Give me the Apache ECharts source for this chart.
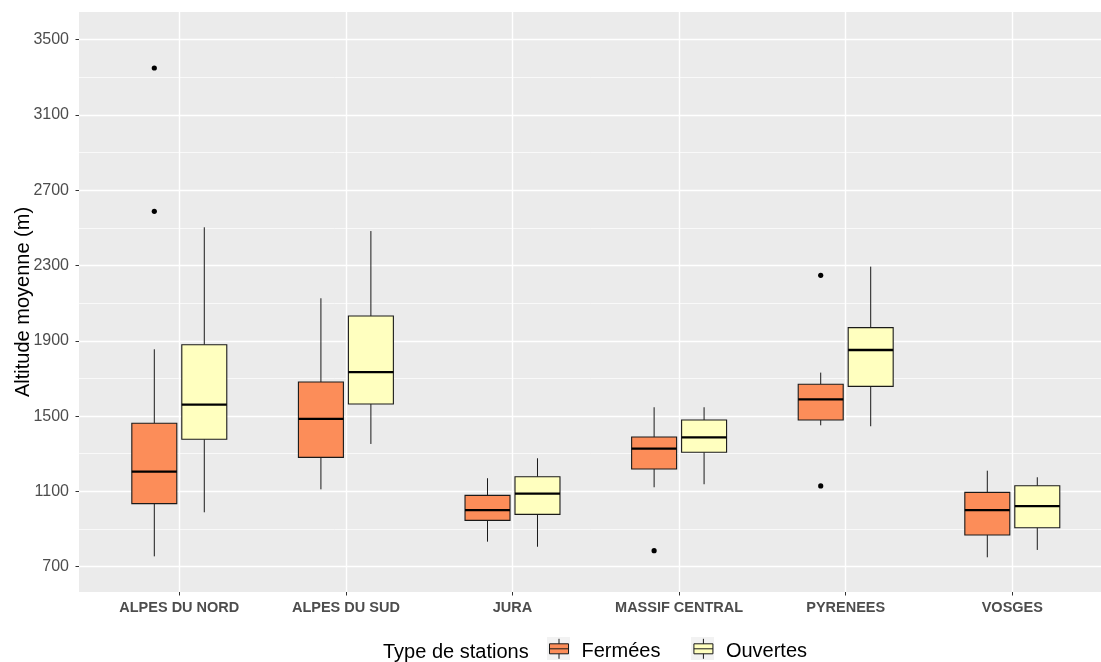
<!DOCTYPE html>
<html>
<head>
<meta charset="utf-8">
<title>Altitude moyenne des stations par massif</title>
<script src="https://cdn.jsdelivr.net/npm/echarts@6/dist/echarts.min.js"></script>
<style>
  html, body { margin: 0; padding: 0; background: #ffffff; }
  #chart { width: 1101px; height: 662px; }
</style>
</head>
<body>
<div id="chart"></div>
<script>
// Massifs on the x axis
const categories = ['ALPES DU NORD', 'ALPES DU SUD', 'JURA', 'MASSIF CENTRAL', 'PYRENEES', 'VOSGES'];

// Box statistics per massif: [lower whisker, Q1, median, Q3, upper whisker]
const fermees = [
  [755, 1035, 1205, 1462, 1855],
  [1111, 1281, 1485, 1681, 2126],
  [833, 946, 1000, 1079, 1170],
  [1122, 1219, 1327, 1389, 1547],
  [1451, 1479, 1589, 1669, 1731],
  [750, 868, 1000, 1095, 1210]
];
const ouvertes = [
  [989, 1377, 1561, 1879, 2503],
  [1352, 1564, 1734, 2032, 2483],
  [806, 978, 1088, 1178, 1276],
  [1138, 1308, 1387, 1479, 1547],
  [1446, 1658, 1851, 1970, 2294],
  [789, 907, 1022, 1130, 1175]
];

// Outlying stations: [massif index, altitude]
const outliersFermees = [[0, 3349], [0, 2588], [3, 785], [4, 2248], [4, 1129]];
const outliersOuvertes = [];

// Axis ticks
const yMajorTicks = [700, 1100, 1500, 1900, 2300, 2700, 3100, 3500];
const yMinorTicks = [900, 1300, 1700, 2100, 2500, 2900, 3300];
const yRange = [565.6, 3646.6];

const groupNames = ['Fermées', 'Ouvertes'];
const groupColors = ['#FC8D59', '#FFFFBF'];
const lineColor = '#1A1A1A';
const FONT = '"Liberation Sans", Arial, sans-serif';

// Dodge offset and box width, as fractions of the category spacing
const DODGE = 0.15;
const HALF_BOX = 0.135;

// Legend key: box, median and whisker stubs; the trailing move-to pads the key
// below so the label sits slightly lower than the box centre.
const KEY_ICON = 'path://M0,5 L19,5 L19,15 L0,15 Z M0,10 L19,10 M9.5,0 L9.5,5 M9.5,15 L9.5,20 M9.5,26';

function boxRenderer(offsetFrac, fill) {
  return function (params, api) {
    const idx = api.value(0);
    const band = api.size([1, 0])[0];
    const cx = api.coord([idx, 0])[0] + offsetFrac * band;
    const half = HALF_BOX * band;
    const y = [1, 2, 3, 4, 5].map(d => api.coord([idx, api.value(d)])[1]);
    return {
      type: 'group',
      children: [
        { type: 'line', shape: { x1: cx, y1: y[0], x2: cx, y2: y[1] },
          style: { stroke: lineColor, lineWidth: 1 } },
        { type: 'line', shape: { x1: cx, y1: y[3], x2: cx, y2: y[4] },
          style: { stroke: lineColor, lineWidth: 1 } },
        { type: 'rect', shape: { x: cx - half, y: y[3], width: 2 * half, height: y[1] - y[3] },
          style: { fill: fill, stroke: lineColor, lineWidth: 1.1 } },
        { type: 'line', shape: { x1: cx - half, y1: y[2], x2: cx + half, y2: y[2] },
          style: { stroke: '#000000', lineWidth: 2.3 } }
      ]
    };
  };
}

function outlierRenderer(offsetFrac) {
  return function (params, api) {
    const idx = api.value(0);
    const band = api.size([1, 0])[0];
    const p = api.coord([idx, api.value(1)]);
    return {
      type: 'circle',
      shape: { cx: p[0] + offsetFrac * band, cy: p[1], r: 2.6 },
      style: { fill: '#000000' }
    };
  };
}

const chart = echarts.init(document.getElementById('chart'), null, { renderer: 'canvas' });

const hiddenAxis = {
  axisLine: { show: false }, axisTick: { show: false },
  axisLabel: { show: false }, splitLine: { show: false }
};

chart.setOption({
  animation: false,
  backgroundColor: '#ffffff',
  textStyle: { fontFamily: FONT },
  grid: [
    // full panel: background and horizontal grid lines
    { left: 79, right: -11, top: 12, bottom: 70, backgroundColor: '#EBEBEB', show: true, borderWidth: 0,
      outerBoundsMode: 'none', containLabel: false },
    // plotting area spanning first to last massif
    { left: 179.3, right: 88.7, top: 12, bottom: 70, outerBoundsMode: 'none', containLabel: false }
  ],
  xAxis: [
    Object.assign({ type: 'value', gridIndex: 0, min: 0, max: 1 }, hiddenAxis),
    {
      type: 'category', gridIndex: 1, data: categories, boundaryGap: false,
      axisLine: { show: false },
      axisTick: { show: true, length: 3.5, lineStyle: { color: '#333333', width: 1 } },
      axisLabel: { interval: 0, margin: 8, color: '#4D4D4D', fontSize: 14.5, fontWeight: 'bold', fontFamily: FONT },
      splitLine: { show: true, lineStyle: { color: '#FFFFFF', width: 1.4 } }
    }
  ],
  yAxis: [
    {
      type: 'value', gridIndex: 0, min: yRange[0], max: yRange[1],
      name: 'Altitude moyenne (m)', nameLocation: 'middle', nameGap: 46, nameMoveOverlap: false,
      nameTextStyle: { color: '#000000', fontSize: 20, fontFamily: FONT },
      axisLine: { show: false },
      axisTick: { show: true, length: 3.5, customValues: yMajorTicks, lineStyle: { color: '#333333', width: 1 } },
      axisLabel: { customValues: yMajorTicks, margin: 10, color: '#4D4D4D', fontSize: 16, fontFamily: FONT,
        formatter: v => String(v) },
      splitLine: { show: true, lineStyle: { color: '#FFFFFF', width: 1.4 } }
    },
    {
      type: 'value', gridIndex: 0, min: yRange[0], max: yRange[1],
      axisLine: { show: false },
      axisTick: { show: false, customValues: yMinorTicks },
      axisLabel: { show: false, customValues: yMinorTicks },
      splitLine: { show: true, lineStyle: { color: '#FFFFFF', width: 0.7 } }
    },
    Object.assign({ type: 'value', gridIndex: 1, min: yRange[0], max: yRange[1] }, hiddenAxis)
  ],
  legend: {
    left: 549, top: 638.3, padding: 0,
    itemWidth: 19, itemHeight: 26, itemGap: 33,
    textStyle: { color: '#000000', fontSize: 20, fontFamily: FONT, padding: [0, 0, 0, 8] },
    data: groupNames.map((n, i) => ({
      name: n,
      icon: KEY_ICON,
      itemStyle: { color: groupColors[i], borderColor: lineColor, borderWidth: 1 }
    })),
    selectedMode: false
  },
  graphic: [
    { type: 'rect', left: 547, top: 637, z: -1, shape: { width: 23, height: 23 }, style: { fill: '#F2F2F2' } },
    { type: 'rect', left: 691, top: 637, z: -1, shape: { width: 23, height: 23 }, style: { fill: '#F2F2F2' } },
    { type: 'text', left: 383, top: 642.5, style: { text: 'Type de stations', fill: '#000000', fontSize: 20, fontFamily: FONT } }
  ],
  series: [
    {
      name: groupNames[0], type: 'custom', xAxisIndex: 1, yAxisIndex: 2,
      renderItem: boxRenderer(-DODGE, groupColors[0]),
      itemStyle: { color: groupColors[0], borderColor: lineColor },
      encode: { x: 0, y: [1, 2, 3, 4, 5] },
      data: fermees.map((s, i) => [i].concat(s))
    },
    {
      name: groupNames[1], type: 'custom', xAxisIndex: 1, yAxisIndex: 2,
      renderItem: boxRenderer(DODGE, groupColors[1]),
      itemStyle: { color: groupColors[1], borderColor: lineColor },
      encode: { x: 0, y: [1, 2, 3, 4, 5] },
      data: ouvertes.map((s, i) => [i].concat(s))
    },
    {
      name: groupNames[0], type: 'custom', xAxisIndex: 1, yAxisIndex: 2,
      renderItem: outlierRenderer(-DODGE),
      encode: { x: 0, y: 1 },
      data: outliersFermees
    },
    {
      name: groupNames[1], type: 'custom', xAxisIndex: 1, yAxisIndex: 2,
      renderItem: outlierRenderer(DODGE),
      encode: { x: 0, y: 1 },
      data: outliersOuvertes
    }
  ]
});
</script>
</body>
</html>
